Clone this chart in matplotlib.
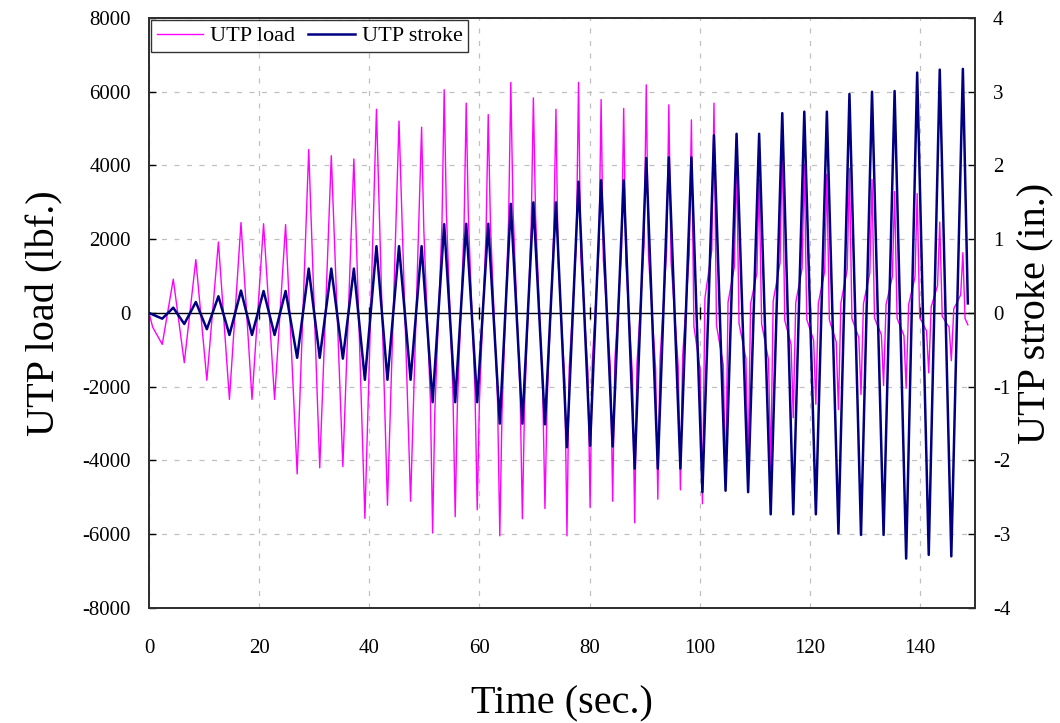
import matplotlib
matplotlib.use("Agg")
import matplotlib.pyplot as plt

plt.rcParams['font.family'] = ['Liberation Serif', 'DejaVu Serif']
plt.rcParams['axes.unicode_minus'] = False

# peak (turning point) times of the cyclic test, sec
peak_t = [0.0, 2.4, 4.4, 6.4, 8.5, 10.5, 12.6, 14.6, 16.7, 18.7, 20.8, 22.8, 24.8,
          26.9, 29.0, 31.0, 33.1, 35.2, 37.2, 39.2, 41.3, 43.3, 45.4, 47.5, 49.5,
          51.5, 53.6, 55.6, 57.6, 59.6, 61.6, 63.7, 65.7, 67.8, 69.8, 71.9, 73.9,
          75.9, 78.0, 80.1, 82.1, 84.2, 86.2, 88.2, 90.3, 92.4, 94.4, 96.5, 98.5,
          100.5, 102.6, 104.7, 106.7, 108.8, 110.8, 112.9, 115.0, 117.0, 119.0,
          121.1, 123.1, 125.2, 127.2, 129.3, 131.3, 133.4, 135.4, 137.5, 139.5,
          141.6, 143.6, 145.7, 147.8, 148.7]

# stroke at the peaks, in.
stroke_v = [0.0, -0.077, 0.072, -0.149, 0.149, -0.22, 0.227, -0.298, 0.304, -0.298,
            0.298, -0.298, 0.298, -0.608, 0.602, -0.608, 0.602, -0.619, 0.602,
            -0.906, 0.906, -0.906, 0.906, -0.906, 0.906, -1.21, 1.204, -1.21, 1.21,
            -1.21, 1.21, -1.50, 1.48, -1.50, 1.50, -1.51, 1.50, -1.82, 1.78, -1.80,
            1.80, -1.81, 1.80, -2.11, 2.10, -2.11, 2.11, -2.11, 2.11, -2.43, 2.41,
            -2.41, 2.43, -2.43, 2.43, -2.73, 2.71, -2.73, 2.73, -2.73, 2.73, -2.99,
            2.97, -3.01, 3.00, -3.01, 3.01, -3.33, 3.26, -3.28, 3.30, -3.30, 3.31, 0.13]

# load record (peaks plus the knees between them), lbf
load_t = [0.0, 0.67, 2.4, 4.4, 6.4, 8.5, 10.5, 12.6, 14.6, 16.7, 18.7, 20.8, 22.8,
          24.8, 26.9, 29.0, 31.0, 33.1, 35.2, 37.2, 39.2, 41.3, 43.3, 45.4, 47.5,
          49.5, 49.9, 51.1, 51.5, 51.9, 53.2, 53.6, 54.0, 55.2, 55.6, 56.0, 57.2,
          57.6, 58.0, 59.2, 59.6, 60.0, 61.2, 61.6, 62.0, 63.3, 63.7, 64.1, 65.3,
          65.7, 66.1, 67.4, 67.8, 68.2, 69.4, 69.8, 70.2, 71.5, 71.9, 72.3, 73.5,
          73.9, 74.3, 75.5, 75.9, 76.3, 77.6, 78.0, 78.4, 79.7, 80.1, 80.5, 81.7,
          82.1, 82.5, 83.8, 84.2, 84.6, 85.8, 86.2, 86.6, 87.8, 88.2, 88.6, 89.9,
          90.3, 90.7, 92.0, 92.4, 92.8, 94.0, 94.4, 94.8, 96.1, 96.5, 96.9, 98.1,
          98.5, 98.95, 100.1, 100.5, 100.95, 102.2, 102.6, 103.05, 104.3, 104.7,
          105.15, 106.3, 106.7, 107.15, 108.4, 108.8, 109.25, 110.4, 110.8, 111.25,
          112.5, 112.9, 113.35, 114.6, 115.0, 115.45, 116.6, 117.0, 117.45, 118.6,
          119.0, 119.45, 120.7, 121.1, 121.55, 122.7, 123.1, 123.55, 124.8, 125.2,
          125.65, 126.8, 127.2, 127.65, 128.9, 129.3, 129.75, 130.9, 131.3, 131.75,
          133.0, 133.4, 133.85, 135.0, 135.4, 135.85, 137.1, 137.5, 137.95, 139.1,
          139.5, 139.95, 141.2, 141.6, 142.05, 143.2, 143.6, 144.05, 145.3, 145.7,
          146.15, 147.4, 147.8, 148.2, 148.7]
load_v = [0, -388, -851, 917, -1348, 1448, -1823, 1923, -2343, 2453, -2343, 2420, -2343,
          2398, -4365, 4431, -4199, 4265, -4166, 4177, -5569, 5525, -5215, 5204, -5105,
          5039, 2268, -2387, -5967, -2685, 2422, 6055, 2725, -2210, -5525, -2486, 2276,
          5691, 2561, -2135, -5337, -2402, 2152, 5381, 2421, -2418, -6044, -2720, 2502,
          6254, 2814, -2232, -5580, -2511, 2334, 5834, 2625, -2122, -5304, -2387, 2210,
          5525, 1381, -1813, -6044, -1511, 1876, 6254, 1564, -1581, -5271, -1318, 1737,
          5790, 1448, -1532, -5105, -1276, 1664, 5547, 1387, -1707, -5691, -1423, 1856,
          6188, 1547, -1515, -5050, -1263, 1694, 5646, 1412, -1439, -4796, -1199, 1571,
          5238, -362, -1551, -5171, 398, 1707, 5691, -330, -1415, -4718,
          292, 1253, 4177, -288, -1233, -4110, 254, 1087, 3624, -295,
          -1266, -4221, 319, 1369, 4564, -199, -852, -2840, 282, 1210,
          4033, -173, -743, -2475, 263, 1127, 3757, -183, -786, -2619,
          275, 1177, 3923, -155, -663, -2210, 254, 1087, 3624, -138,
          -590, -1967, 231, 988, 3293, -143, -613, -2044, 227, 971,
          3238, -114, -487, -1624, 172, 739, 2464, -91, -388, -1293,
          114, 491, 1635, -150, -320]

x_ticks = [0, 20, 40, 60, 80, 100, 120, 140]

fig, ax = plt.subplots(figsize=(10.6, 7.23), dpi=100)
fig.subplots_adjust(left=0.1406, right=0.9198, top=0.9751, bottom=0.1591)
ax2 = ax.twinx()

ax.plot(load_t, load_v, color='#FF00FF', lw=1.0, label='UTP load', zorder=3)
ax2.plot(peak_t, stroke_v, color='#000080', lw=1.8, label='UTP stroke', zorder=3)

ax.set_xlim(0, 150)
ax.set_ylim(-8000, 8000)
ax2.set_ylim(-4, 4)
ax.set_xticks(x_ticks)
ax.set_yticks(range(-8000, 8001, 2000))
ax2.set_yticks(range(-4, 5))

ax.grid(True, color='#c0c0c0', ls=(0, (4, 6)), lw=0.9)
ax.axhline(0, color='black', lw=1.0, zorder=2)
# excel style axis crossing at zero: little tick marks on the zero line
ax.plot(x_ticks[1:], [0] * (len(x_ticks) - 1), ls='none', marker='|', ms=8,
        mew=1.0, color='black', zorder=2)

ax.tick_params(axis='both', labelsize=15, direction='in', length=5, width=1.0)
ax.tick_params(axis='y', pad=13)
ax.tick_params(axis='x', length=0, pad=22)
ax2.tick_params(axis='y', labelsize=15, direction='in', length=5, width=1.0, pad=13)

for a in (ax, ax2):
    for s in a.spines.values():
        s.set_linewidth(1.3)
        s.set_color('#303030')

ax.set_xlabel('Time (sec.)', fontsize=29, labelpad=20)
ax.set_ylabel('UTP load (lbf.)', fontsize=29, labelpad=14)
ax2.set_ylabel('UTP stroke (in.)', fontsize=29, labelpad=4)

h1, l1 = ax.get_legend_handles_labels()
h2, l2 = ax2.get_legend_handles_labels()
leg = ax2.legend(h1 + h2, l1 + l2, loc='upper left', ncol=2, fontsize=16,
                 frameon=True, fancybox=False, borderaxespad=0.1, handlelength=2.1,
                 columnspacing=0.6, handletextpad=0.3, borderpad=0.25)
leg.get_frame().set_edgecolor('black')
leg.get_frame().set_linewidth(1.0)

fig.savefig('out.png', dpi=100)
